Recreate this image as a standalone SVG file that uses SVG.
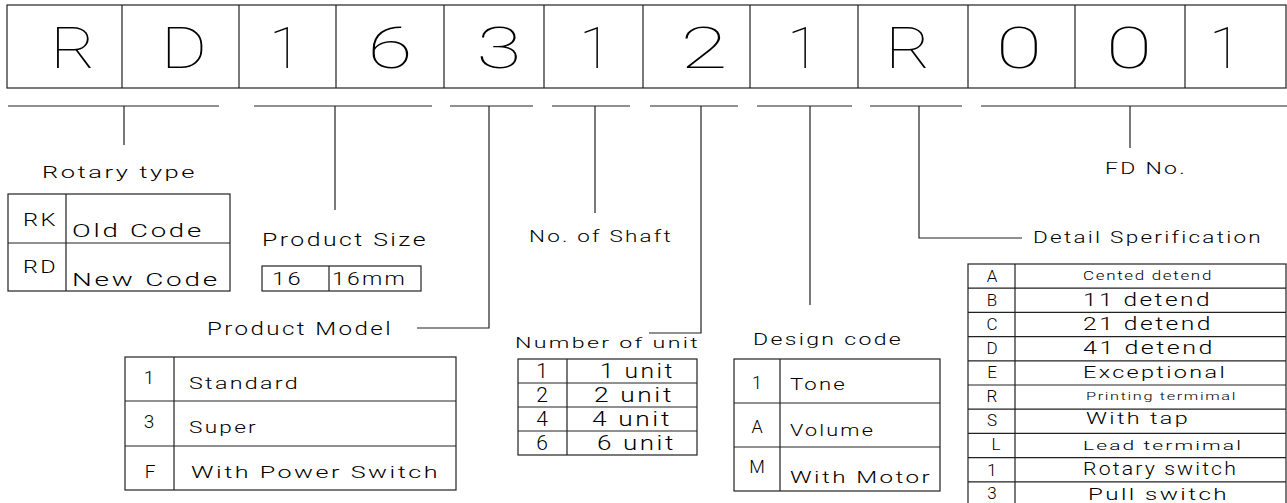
<svg xmlns="http://www.w3.org/2000/svg" width="1287" height="503" viewBox="0 0 1287 503">
<style>
.ln{fill:none;stroke:#222;stroke-width:1.2}
text{font-family:"Roboto","DejaVu Sans",sans-serif;font-weight:300;fill:#000;letter-spacing:0.1em}
.big{font-size:58px;font-weight:100;text-anchor:middle;letter-spacing:0}
.m{text-anchor:middle;letter-spacing:0}
</style>
<rect width="1287" height="503" fill="#fff"/>
<g id="code-boxes">
<rect class="ln" x="7" y="5" width="1279" height="83"/>
<path class="ln" d="M122 5V88M239 5V88M336 5V88M444 5V88M544 5V88M643 5V88M750 5V88M858 5V88M968 5V88M1075 5V88M1185 5V88"/>
<text class="big" x="73" y="68" textLength="45" lengthAdjust="spacingAndGlyphs">R</text>
<text class="big" x="184" y="68" textLength="46" lengthAdjust="spacingAndGlyphs">D</text>
<text class="big" x="285" y="68">1</text>
<text class="big" x="390" y="68" textLength="45" lengthAdjust="spacingAndGlyphs">6</text>
<text class="big" x="499" y="68" textLength="45" lengthAdjust="spacingAndGlyphs">3</text>
<text class="big" x="595" y="68">1</text>
<text class="big" x="704" y="68" textLength="47" lengthAdjust="spacingAndGlyphs">2</text>
<text class="big" x="803" y="68">1</text>
<text class="big" x="908" y="68" textLength="45" lengthAdjust="spacingAndGlyphs">R</text>
<text class="big" x="1019" y="68" textLength="46" lengthAdjust="spacingAndGlyphs">0</text>
<text class="big" x="1129" y="68" textLength="46" lengthAdjust="spacingAndGlyphs">0</text>
<text class="big" x="1225" y="68">1</text>
</g>
<g id="connectors">
<path class="ln" d="M8 106H219M124 106V145"/>
<path class="ln" d="M254 106H432M335 106V210"/>
<path class="ln" d="M450 106H533M489 106V328H417"/>
<path class="ln" d="M552 106H630M595 106V213"/>
<path class="ln" d="M650 106H738M701 106V333H649"/>
<path class="ln" d="M757 106H852M810 106V305"/>
<path class="ln" d="M870 106H962M919 106V238H1022"/>
<path class="ln" d="M981 106H1287M1130 106V148"/>
</g>
<g id="rotary-type">
<text x="42" y="178" font-size="17" textLength="155" lengthAdjust="spacingAndGlyphs">Rotary type</text>
<rect class="ln" x="8" y="194" width="222" height="97"/>
<path class="ln" d="M8 243H230M66 194V291"/>
<text x="23" y="226" font-size="19" textLength="35" lengthAdjust="spacingAndGlyphs">RK</text>
<text x="72" y="237" font-size="19" textLength="132" lengthAdjust="spacingAndGlyphs">Old Code</text>
<text x="23" y="273" font-size="19" textLength="35" lengthAdjust="spacingAndGlyphs">RD</text>
<text x="72" y="286" font-size="19" textLength="148" lengthAdjust="spacingAndGlyphs">New Code</text>
</g>
<g id="product-size">
<text x="262" y="246" font-size="19" textLength="166" lengthAdjust="spacingAndGlyphs">Product Size</text>
<rect class="ln" x="262" y="266" width="159" height="25"/>
<path class="ln" d="M329 266V291"/>
<text x="272" y="285" font-size="18" textLength="31" lengthAdjust="spacingAndGlyphs">16</text>
<text x="332" y="285" font-size="18" textLength="75" lengthAdjust="spacingAndGlyphs">16mm</text>
</g>
<g id="product-model">
<text x="207" y="335" font-size="18" textLength="186" lengthAdjust="spacingAndGlyphs">Product Model</text>
<rect class="ln" x="125" y="357" width="331" height="133"/>
<path class="ln" d="M125 401H456M125 446H456M174 357V490"/>
<text class="m" x="149" y="384" font-size="19">1</text>
<text x="189" y="389" font-size="17" textLength="111" lengthAdjust="spacingAndGlyphs">Standard</text>
<text class="m" x="149" y="428" font-size="19">3</text>
<text x="189" y="433" font-size="17" textLength="69" lengthAdjust="spacingAndGlyphs">Super</text>
<text class="m" x="150" y="478" font-size="19">F</text>
<text x="191" y="478" font-size="17" textLength="249" lengthAdjust="spacingAndGlyphs">With Power Switch</text>
</g>
<g id="no-of-shaft">
<text x="529" y="242" font-size="16" textLength="144" lengthAdjust="spacingAndGlyphs">No. of Shaft</text>
</g>
<g id="number-of-unit">
<text x="515" y="348" font-size="15" textLength="185" lengthAdjust="spacingAndGlyphs">Number of unit</text>
<rect class="ln" x="518" y="359" width="179" height="96"/>
<path class="ln" d="M518 383H697M518 407H697M518 431H697M567 359V455"/>
<text class="m" x="542" y="378" font-size="21">1</text>
<text class="m" x="542" y="402" font-size="21">2</text>
<text class="m" x="542" y="426" font-size="21">4</text>
<text class="m" x="542" y="450" font-size="21">6</text>
<text x="600" y="378" font-size="20" textLength="75" lengthAdjust="spacingAndGlyphs">1 unit</text>
<text x="594" y="402" font-size="20" textLength="80" lengthAdjust="spacingAndGlyphs">2 unit</text>
<text x="592" y="426" font-size="20" textLength="80" lengthAdjust="spacingAndGlyphs">4 unit</text>
<text x="597" y="450" font-size="20" textLength="79" lengthAdjust="spacingAndGlyphs">6 unit</text>
</g>
<g id="design-code">
<text x="753" y="345" font-size="17" textLength="150" lengthAdjust="spacingAndGlyphs">Design code</text>
<rect class="ln" x="734" y="359" width="206" height="132"/>
<path class="ln" d="M734 403H940M734 447H940M780 359V491"/>
<text class="m" x="757" y="389" font-size="18">1</text>
<text x="790" y="390" font-size="17" textLength="57" lengthAdjust="spacingAndGlyphs">Tone</text>
<text class="m" x="757" y="433" font-size="18">A</text>
<text x="790" y="436" font-size="17" textLength="85" lengthAdjust="spacingAndGlyphs">Volume</text>
<text class="m" x="757" y="473" font-size="18">M</text>
<text x="790" y="483" font-size="17" textLength="142" lengthAdjust="spacingAndGlyphs">With Motor</text>
</g>
<g id="fd-no">
<text x="1105" y="174" font-size="16" textLength="82" lengthAdjust="spacingAndGlyphs">FD No.</text>
</g>
<g id="detail-specification">
<text x="1033" y="243" font-size="17" textLength="230" lengthAdjust="spacingAndGlyphs">Detail Sperification</text>
<rect class="ln" x="968" y="264" width="318" height="242"/>
<path class="ln" d="M968 288.2H1286M968 312.4H1286M968 336.6H1286M968 360.8H1286M968 385H1286M968 409.2H1286M968 433.4H1286M968 457.6H1286M968 481.8H1286M1015 264V506"/>
<text class="m" x="992" y="282" font-size="17">A</text>
<text class="m" x="992" y="306" font-size="17">B</text>
<text class="m" x="992" y="330" font-size="17">C</text>
<text class="m" x="992" y="354" font-size="17">D</text>
<text class="m" x="992" y="378" font-size="17">E</text>
<text class="m" x="992" y="402" font-size="17">R</text>
<text class="m" x="992" y="426" font-size="17">S</text>
<text class="m" x="996" y="450" font-size="17">L</text>
<text class="m" x="992" y="476" font-size="17">1</text>
<text class="m" x="992" y="499" font-size="17">3</text>
<text x="1083" y="280" font-size="12" textLength="130" lengthAdjust="spacingAndGlyphs">Cented detend</text>
<text x="1083" y="306" font-size="18" textLength="129" lengthAdjust="spacingAndGlyphs">11 detend</text>
<text x="1083" y="330" font-size="18" textLength="130" lengthAdjust="spacingAndGlyphs">21 detend</text>
<text x="1083" y="354" font-size="18" textLength="132" lengthAdjust="spacingAndGlyphs">41 detend</text>
<text x="1083" y="378" font-size="17" textLength="144" lengthAdjust="spacingAndGlyphs">Exceptional</text>
<text x="1086" y="400" font-size="11" textLength="151" lengthAdjust="spacingAndGlyphs">Printing termimal</text>
<text x="1086" y="424" font-size="17" textLength="104" lengthAdjust="spacingAndGlyphs">With tap</text>
<text x="1083" y="450" font-size="13" textLength="160" lengthAdjust="spacingAndGlyphs">Lead termimal</text>
<text x="1083" y="475" font-size="18" textLength="155" lengthAdjust="spacingAndGlyphs">Rotary switch</text>
<text x="1088" y="500" font-size="17" textLength="141" lengthAdjust="spacingAndGlyphs">Pull switch</text>
</g>
</svg>
